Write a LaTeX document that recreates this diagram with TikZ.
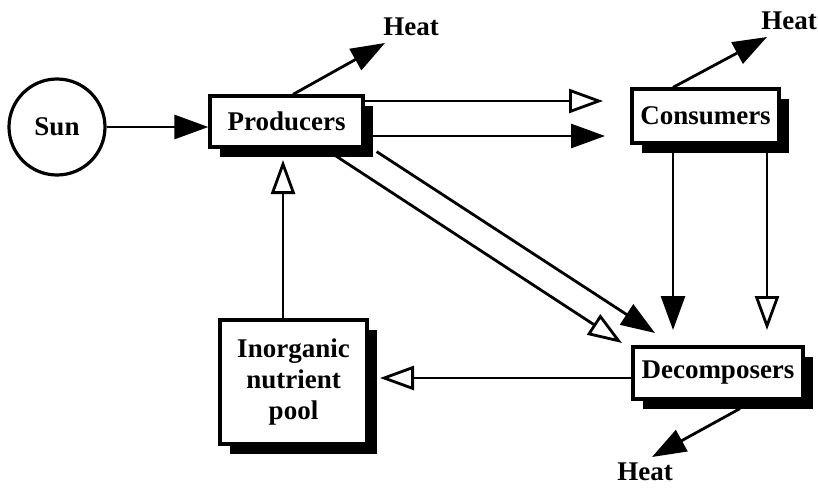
\documentclass[tikz,border=0pt]{standalone}
\usepackage{fontspec}
\setmainfont{Liberation Serif}
\usetikzlibrary{arrows.meta,shadows}

\begin{document}
\begin{tikzpicture}[x=0.5pt,y=-0.5pt,line width=1.4pt,
                    lbl/.style={font=\bfseries\fontsize{13.5}{15.5}\selectfont},
                    box/.style={draw,fill=white,line width=1.6pt,inner sep=0pt,align=center,lbl,
                      drop shadow={shadow xshift=5pt,shadow yshift=-5pt,fill=black,opacity=1}},
                    fullhead/.style={-{Triangle[length=17pt,width=12pt]}},
                    openhead/.style={-{Triangle[open,length=17pt,width=12pt]}}]

  \useasboundingbox (0,0) rectangle (818,487);

  \node[draw,circle,line width=1.6pt,minimum size=48pt,inner sep=0pt,lbl] (sun) at (57,127) {Sun};
  \node[box,minimum width=76.5pt,minimum height=25.5pt] (prod)   at (286.5,121.5) {Producers};
  \node[box,minimum width=73.5pt,minimum height=27pt]   (cons)   at (705.5,116)   {Consumers};
  \node[box,minimum width=85pt,minimum height=26pt]     (decomp) at (718,373)     {Decomposers};
  \node[box,minimum width=73.5pt,minimum height=62pt]   (pool)   at (293.5,382)   {Inorganic\\nutrient\\pool};

  \node[lbl] (heat1) at (411,27)  {Heat};
  \node[lbl] (heat2) at (789,21)  {Heat};
  \node[lbl] (heat3) at (645,472) {Heat};

  % free ends of the arrows
  \coordinate (hp) at (385,43);
  \coordinate (hc) at (767,37);
  \coordinate (hd) at (652,457);
  \coordinate (pc1) at (603,101);
  \coordinate (pc2) at (605,136);
  \coordinate (pd1) at (622,343);
  \coordinate (pd2) at (655,333);
  \coordinate (cd1) at (673,330);
  \coordinate (cd2) at (767,330);
  \coordinate (dp) at (380,378);
  \coordinate (pp) at (283,160);

  \draw[fullhead] (sun.east) -- (sun.east -| prod.west);
  \draw[fullhead] ([xshift=3.25pt]prod.north) -- (hp);
  \draw[fullhead] ([xshift=-16.25pt]cons.north) -- (hc);
  \draw[fullhead] ([shift={(11pt,-4pt)}]decomp.south) -- (hd);

  \draw[openhead] (pc1 -| prod.east) -- (pc1);
  \draw[fullhead] (pc2 -| prod.east) -- (pc2);
  \draw[openhead] ([xshift=-20pt]prod.south east) -- (pd1);
  \draw[fullhead] ([shift={(6pt,-1.5pt)}]prod.south east) -- (pd2);

  \draw[fullhead] (cd1 |- cons.south) -- (cd1);
  \draw[openhead] (cd2 |- cons.south) -- (cd2);

  \draw[openhead] (dp -| decomp.west) -- (dp);
  \draw[openhead] (pp |- pool.north) -- (pp);
\end{tikzpicture}
\end{document}
